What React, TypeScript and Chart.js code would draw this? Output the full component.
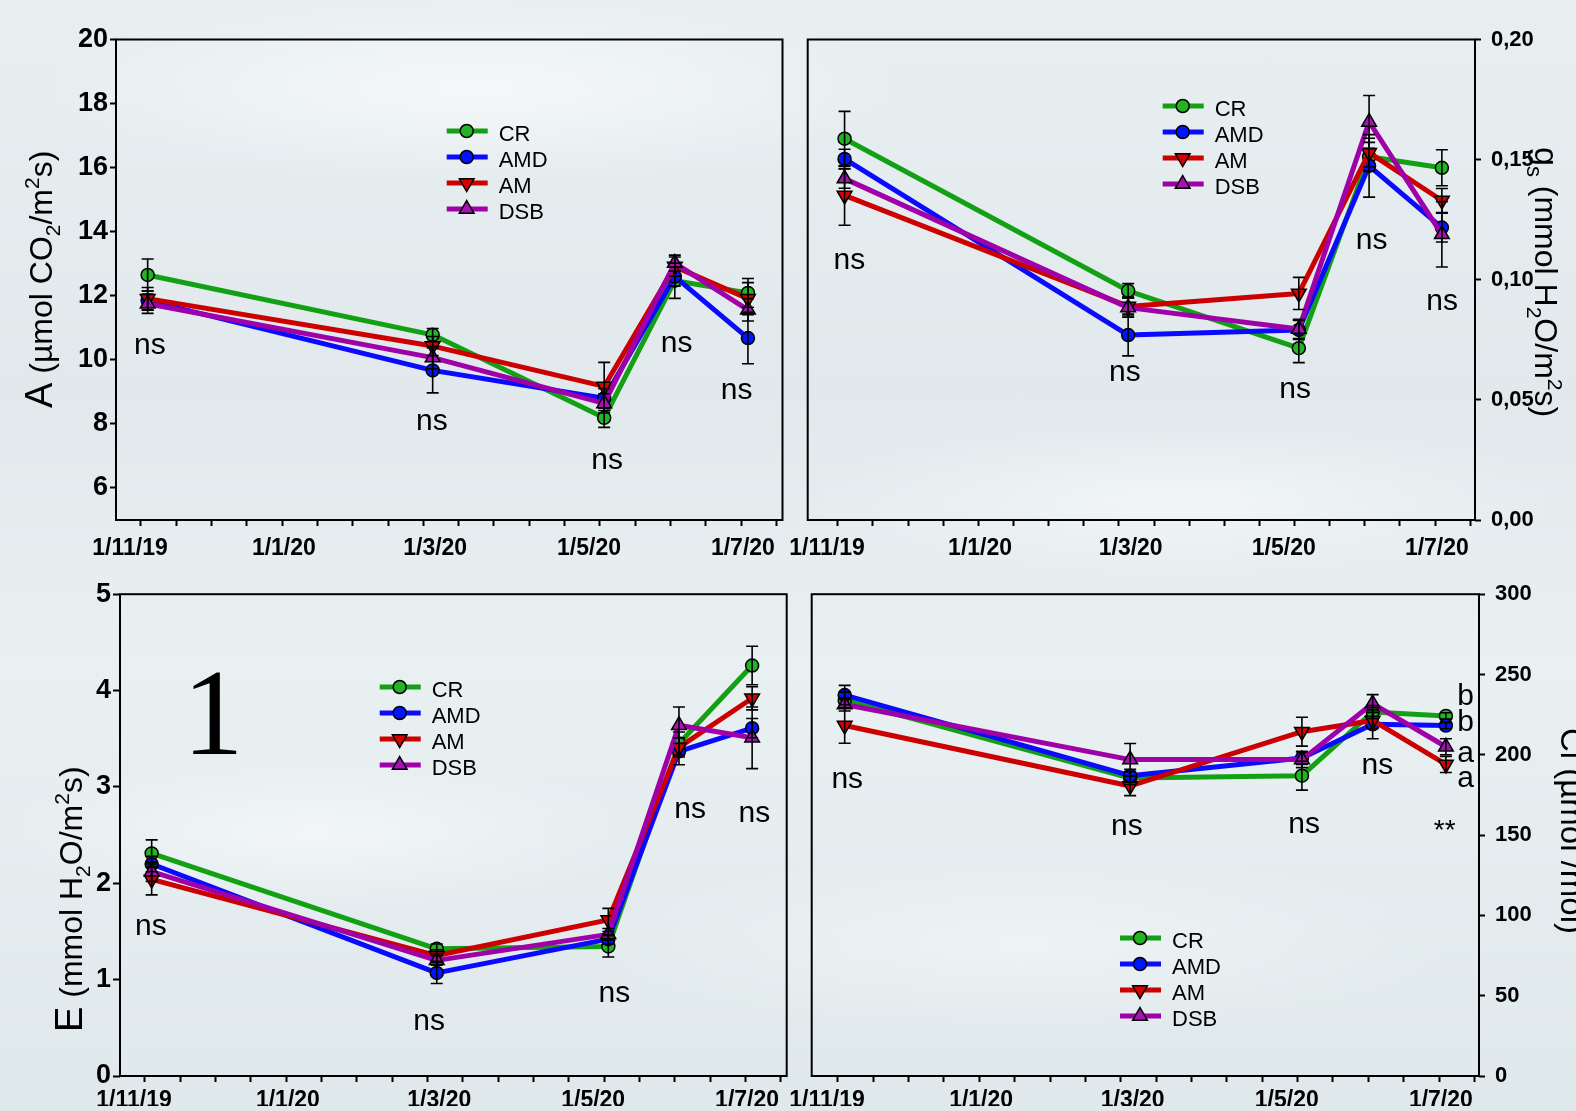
import React, { useEffect, useRef } from 'react';
import { Chart, registerables } from 'chart.js';

Chart.register(...registerables);

const FONT = '"Liberation Sans", Arial, Helvetica, sans-serif';
const SERIF = '"Liberation Serif", "Times New Roman", serif';
const W = 1576;
const H = 1111;

// ---------- DATA ----------
// x values: days since 1 Nov 2019
const sampleDays = [7, 120, 188, 216, 245];
const xLabelDays = [0, 61, 121, 182, 243];
const xLabels = ['1/11/19', '1/1/20', '1/3/20', '1/5/20', '1/7/20'];
const xMinorTickDays = [4.3, 18.3, 32.3, 46.3, 60.3, 74.3, 88.3, 102.3, 116.3, 130.3, 144.3, 158.3, 172.3, 186.3, 200.3, 214.3, 228.3, 242.3, 256.3];

const seriesNames = ['CR', 'AMD', 'AM', 'DSB'];

// Panel A: net photosynthesis
const aCR = [12.65, 10.78, 8.19, 12.47, 12.09];
const aAMD = [11.85, 9.67, 8.8, 12.6, 10.68];
const aAM = [11.91, 10.43, 9.17, 12.91, 11.91];
const aDSB = [11.75, 10.07, 8.64, 13.02, 11.56];
const aErrCR = [0.5, 0.2, 0.3, 0.55, 0.45];
const aErrAMD = [0.3, 0.7, 0.3, 0.3, 0.8];
const aErrAM = [0.35, 0.3, 0.75, 0.3, 0.5];
const aErrDSB = [0.3, 0.35, 0.3, 0.25, 0.35];
const aYTicks = [6, 8, 10, 12, 14, 16, 18, 20];

// Panel B: stomatal conductance gs
const gCR = [0.1587, 0.0954, 0.0715, 0.1512, 0.1466];
const gAMD = [0.1503, 0.077, 0.0791, 0.1474, 0.1217];
const gAM = [0.1351, 0.0889, 0.0943, 0.1529, 0.133];
const gDSB = [0.1421, 0.0884, 0.0795, 0.1657, 0.1189];
const gErrCR = [0.0114, 0.003, 0.006, 0.006, 0.0075];
const gErrAMD = [0.004, 0.0087, 0.004, 0.013, 0.006];
const gErrAM = [0.0124, 0.004, 0.0067, 0.006, 0.005];
const gErrDSB = [0.004, 0.004, 0.004, 0.011, 0.0136];
const gYTicks = [0, 0.05, 0.1, 0.15, 0.2];

// Panel C: transpiration E
const eCR = [2.31, 1.32, 1.345, 3.45, 4.26];
const eAMD = [2.2, 1.07, 1.42, 3.37, 3.61];
const eAM = [2.04, 1.25, 1.62, 3.41, 3.92];
const eDSB = [2.12, 1.2, 1.47, 3.64, 3.51];
const eErrCR = [0.14, 0.05, 0.11, 0.12, 0.2];
const eErrAMD = [0.08, 0.11, 0.05, 0.14, 0.1];
const eErrAM = [0.16, 0.06, 0.12, 0.1, 0.12];
const eErrDSB = [0.1, 0.05, 0.06, 0.19, 0.32];
const eYTicks = [0, 1, 2, 3, 4, 5];

// Panel D: Ci
const cCR = [234, 185.5, 187, 226.6, 224.2];
const cAMD = [237.2, 187, 198, 219, 218.2];
const cAM = [218.2, 180.6, 214.4, 221.4, 194];
const cDSB = [231.3, 197, 197, 231.9, 205];
const cErrCR = [5, 4, 9, 4, 2];
const cErrAMD = [6, 4, 4, 9, 2];
const cErrAM = [11, 6, 9, 5, 5];
const cErrDSB = [4, 10, 5, 5.6, 5];
const cYTicks = [0, 50, 100, 150, 200, 250, 300];

// Annotations (x in days, y in axis units = text baseline)
const notesA = [
  { x: 7.9, y: 10.18, text: 'ns' },
  { x: 119.7, y: 7.81, text: 'ns' },
  { x: 189.2, y: 6.6, text: 'ns' },
  { x: 216.7, y: 10.24, text: 'ns' },
  { x: 240.5, y: 8.78, text: 'ns' },
];
const notesB = [
  { x: 8.9, y: 0.1043, text: 'ns' },
  { x: 118.7, y: 0.0579, text: 'ns' },
  { x: 186.5, y: 0.0509, text: 'ns' },
  { x: 217, y: 0.1128, text: 'ns' },
  { x: 245.1, y: 0.0874, text: 'ns' },
];
const notesC = [
  { x: 6.7, y: 1.463, text: 'ns' },
  { x: 117, y: 0.477, text: 'ns' },
  { x: 190.4, y: 0.77, text: 'ns' },
  { x: 220.4, y: 2.68, text: 'ns' },
  { x: 245.9, y: 2.64, text: 'ns' },
  { x: 31.3, y: 3.342, text: '1', big: true },
];
const notesD = [
  { x: 8, y: 179.5, text: 'ns' },
  { x: 118.7, y: 149.9, text: 'ns' },
  { x: 188.9, y: 151, text: 'ns' },
  { x: 217.9, y: 187.9, text: 'ns' },
  { x: 244.5, y: 147.6, text: '**', small: true },
  { x: 249.5, y: 231, text: 'b', left: true },
  { x: 249.5, y: 215.1, text: 'b', left: true },
  { x: 249.5, y: 195.5, text: 'a', left: true },
  { x: 249.5, y: 179.7, text: 'a', left: true },
];

// ---------- STYLE ----------
const lineColors = ['#14a014', '#0a0aff', '#cc0000', '#a000a8'];
const fillColors = ['#22b422', '#0014ff', '#d80000', '#a812b4'];
const markerStyle = ['circle', 'circle', 'triangle', 'triangle'];
const markerRot = [0, 0, 180, 0];
const markerRadius = [6.5, 6.5, 8.5, 8.5];

type Seg = { t: string; s: number; d?: number };

const panels = [
  {
    key: 'A',
    area: { l: 116, t: 39.5, r: 782.5, b: 520 },
    xMin: -5.55, xMax: 258.7,
    yMin: 5, yMax: 20, yTicks: aYTicks, yFmt: (v: number) => String(v),
    yPos: 'left', yFont: 27, yPad: 2, yTickLen: 6,
    xPad: 9, xAxisH: 40,
    values: [aCR, aAMD, aAM, aDSB], errors: [aErrCR, aErrAMD, aErrAM, aErrDSB],
    notes: notesA,
    legend: { x: 446.7, y: 131 },
    title: {
      segs: [{ t: 'A', s: 38 }, { t: ' (µmol CO', s: 32 }, { t: '2', s: 21, d: 8 }, { t: '/m', s: 32 }, { t: '2', s: 21, d: -13 }, { t: 's)', s: 32 }] as Seg[],
      x: 52, y: 408, rot: -Math.PI / 2,
    },
  },
  {
    key: 'B',
    area: { l: 807.7, t: 39.5, r: 1475, b: 520 },
    xMin: -7.69, xMax: 258.2,
    yMin: 0, yMax: 0.2, yTicks: gYTicks, yFmt: (v: number) => v.toFixed(2).replace('.', ','),
    yPos: 'right', yFont: 22, yPad: 10, yTickLen: 6,
    xPad: 9, xAxisH: 40,
    values: [gCR, gAMD, gAM, gDSB], errors: [gErrCR, gErrAMD, gErrAM, gErrDSB],
    notes: notesB,
    legend: { x: 1162.7, y: 106 },
    title: {
      segs: [{ t: 'g', s: 34 }, { t: 's', s: 22, d: 8 }, { t: ' (mmol H', s: 32 }, { t: '2', s: 21, d: 8 }, { t: 'O/m', s: 32 }, { t: '2', s: 21, d: -13 }, { t: 's)', s: 32 }] as Seg[],
      x: 1535, y: 147, rot: Math.PI / 2,
    },
  },
  {
    key: 'C',
    area: { l: 120, t: 594.2, r: 786.7, b: 1076 },
    xMin: -5.55, xMax: 258.7,
    yMin: 0, yMax: 5, yTicks: eYTicks, yFmt: (v: number) => String(v),
    yPos: 'left', yFont: 27, yPad: 2, yTickLen: 7,
    xPad: 5, xAxisH: 30,
    values: [eCR, eAMD, eAM, eDSB], errors: [eErrCR, eErrAMD, eErrAM, eErrDSB],
    notes: notesC,
    legend: { x: 379.7, y: 687 },
    title: {
      segs: [{ t: 'E', s: 38 }, { t: ' (mmol H', s: 32 }, { t: '2', s: 21, d: 8 }, { t: 'O/m', s: 32 }, { t: '2', s: 21, d: -13 }, { t: 's)', s: 32 }] as Seg[],
      x: 82, y: 1032, rot: -Math.PI / 2,
    },
  },
  {
    key: 'D',
    area: { l: 811.7, t: 594.2, r: 1479, b: 1076 },
    xMin: -6.06, xMax: 258.1,
    yMin: 0, yMax: 300, yTicks: cYTicks, yFmt: (v: number) => String(v),
    yPos: 'right', yFont: 22, yPad: 10, yTickLen: 6,
    xPad: 5, xAxisH: 30,
    values: [cCR, cAMD, cAM, cDSB], errors: [cErrCR, cErrAMD, cErrAM, cErrDSB],
    notes: notesD,
    legend: { x: 1120, y: 938 },
    title: {
      segs: [{ t: 'Ci', s: 33 }, { t: ' (µmol /mol)', s: 33 }] as Seg[],
      x: 1561, y: 728, rot: Math.PI / 2,
    },
  },
];

type PanelT = (typeof panels)[number];

function drawMarker(ctx: CanvasRenderingContext2D, i: number, x: number, y: number) {
  ctx.save();
  ctx.fillStyle = fillColors[i];
  ctx.strokeStyle = '#000';
  ctx.lineWidth = 1.5;
  ctx.beginPath();
  if (markerStyle[i] === 'circle') {
    ctx.arc(x, y, markerRadius[i], 0, Math.PI * 2);
  } else {
    const r = markerRadius[i];
    let rad = (markerRot[i] * Math.PI) / 180;
    ctx.moveTo(x + Math.sin(rad) * r, y - Math.cos(rad) * r);
    rad += (2 * Math.PI) / 3;
    ctx.lineTo(x + Math.sin(rad) * r, y - Math.cos(rad) * r);
    rad += (2 * Math.PI) / 3;
    ctx.lineTo(x + Math.sin(rad) * r, y - Math.cos(rad) * r);
    ctx.closePath();
  }
  ctx.fill();
  ctx.stroke();
  ctx.restore();
}

function drawRich(ctx: CanvasRenderingContext2D, segs: Seg[], x: number, y: number, rot: number) {
  ctx.save();
  ctx.translate(x, y);
  ctx.rotate(rot);
  ctx.fillStyle = '#000';
  ctx.textAlign = 'left';
  ctx.textBaseline = 'alphabetic';
  let u = 0;
  for (const s of segs) {
    ctx.font = `${s.s}px ${FONT}`;
    ctx.fillText(s.t, u, s.d || 0);
    u += ctx.measureText(s.t).width;
  }
  ctx.restore();
}

function buildConfig(p: PanelT): any {
  const yW = 100;
  const padding =
    p.yPos === 'left'
      ? { left: p.area.l - yW, top: p.area.t, right: W - p.area.r, bottom: H - p.area.b - p.xAxisH }
      : { left: p.area.l, top: p.area.t, right: W - p.area.r - yW, bottom: H - p.area.b - p.xAxisH };
  const labelMap = new Map<number, string>(xLabelDays.map((d, i) => [d, xLabels[i]]));
  const allTicks = [...xLabelDays, ...xMinorTickDays].sort((a, b) => a - b);

  const datasets = seriesNames.map((name, i) => ({
    label: name,
    data: sampleDays.map((d, j) => ({ x: d, y: p.values[i][j] })),
    errors: p.errors[i],
    borderColor: lineColors[i],
    backgroundColor: fillColors[i],
    pointBackgroundColor: fillColors[i],
    pointBorderColor: '#000',
    pointBorderWidth: 1.5,
    pointStyle: markerStyle[i],
    pointRotation: markerRot[i],
    pointRadius: markerRadius[i],
    borderWidth: 5,
    borderJoinStyle: 'round',
    tension: 0,
    fill: false,
    order: 4 - i,
    clip: false,
  }));

  const decor = {
    id: 'decor' + p.key,
    beforeDatasetsDraw(chart: any) {
      const { ctx, chartArea: a } = chart;
      ctx.save();
      ctx.strokeStyle = '#000';
      ctx.lineWidth = 2;
      ctx.strokeRect(a.left, a.top, a.right - a.left, a.bottom - a.top);
      ctx.restore();
    },
    afterDatasetsDraw(chart: any) {
      const { ctx } = chart;
      const xs = chart.scales.x;
      const ys = chart.scales.y;
      ctx.save();
      ctx.strokeStyle = '#000';
      ctx.lineWidth = 1.6;
      chart.data.datasets.forEach((ds: any, i: number) => {
        const meta = chart.getDatasetMeta(i);
        meta.data.forEach((pt: any, j: number) => {
          const v = ds.data[j].y;
          const e = ds.errors[j];
          const y1 = ys.getPixelForValue(v + e);
          const y2 = ys.getPixelForValue(v - e);
          ctx.beginPath();
          ctx.moveTo(pt.x, y1);
          ctx.lineTo(pt.x, y2);
          ctx.moveTo(pt.x - 6, y1);
          ctx.lineTo(pt.x + 6, y1);
          ctx.moveTo(pt.x - 6, y2);
          ctx.lineTo(pt.x + 6, y2);
          ctx.stroke();
        });
      });
      // annotations
      ctx.fillStyle = '#000';
      ctx.textBaseline = 'alphabetic';
      for (const n of p.notes as any[]) {
        if (n.big) ctx.font = `122px ${SERIF}`;
        else if (n.small) ctx.font = `28px ${FONT}`;
        else ctx.font = `30px ${FONT}`;
        ctx.textAlign = n.left ? 'left' : 'center';
        ctx.fillText(n.text, xs.getPixelForValue(n.x), ys.getPixelForValue(n.y));
      }
      ctx.restore();
    },
    afterDraw(chart: any) {
      const { ctx } = chart;
      // legend
      ctx.save();
      seriesNames.forEach((name, i) => {
        const y = p.legend.y + i * 26;
        const x0 = p.legend.x;
        ctx.strokeStyle = lineColors[i];
        ctx.lineWidth = 5;
        ctx.beginPath();
        ctx.moveTo(x0, y);
        ctx.lineTo(x0 + 41, y);
        ctx.stroke();
        drawMarker(ctx, i, x0 + 20, y);
        ctx.fillStyle = '#000';
        ctx.font = `22px ${FONT}`;
        ctx.textAlign = 'left';
        ctx.textBaseline = 'middle';
        ctx.fillText(name, x0 + 52, y + 4);
      });
      ctx.restore();
      drawRich(ctx, p.title.segs, p.title.x, p.title.y, p.title.rot);
    },
  };

  return {
    type: 'line',
    data: { datasets },
    options: {
      animation: false,
      responsive: false,
      maintainAspectRatio: false,
      events: [],
      layout: { padding },
      plugins: { legend: { display: false }, tooltip: { enabled: false } },
      scales: {
        x: {
          type: 'linear',
          min: p.xMin,
          max: p.xMax,
          afterBuildTicks: (s: any) => {
            s.ticks = allTicks.map((v) => ({ value: v }));
          },
          afterFit: (s: any) => {
            s.height = p.xAxisH;
          },
          ticks: {
            autoSkip: false,
            maxRotation: 0,
            minRotation: 0,
            padding: p.xPad,
            color: '#000',
            font: { family: FONT, size: 23, weight: 'bold' },
            callback: (v: number) => labelMap.get(v) ?? '',
          },
          grid: {
            drawOnChartArea: false,
            drawTicks: true,
            tickLength: 6,
            tickWidth: 2,
            tickColor: (c: any) => (c.tick && labelMap.has(c.tick.value) ? 'rgba(0,0,0,0)' : '#000'),
          },
          border: { display: false },
        },
        y: {
          type: 'linear',
          position: p.yPos,
          min: p.yMin,
          max: p.yMax,
          afterBuildTicks: (s: any) => {
            s.ticks = p.yTicks.map((v) => ({ value: v }));
          },
          afterFit: (s: any) => {
            s.width = yW;
          },
          ticks: {
            padding: p.yPad,
            color: '#000',
            font: { family: FONT, size: p.yFont, weight: 'bold' },
            callback: (v: number) => p.yFmt(v),
          },
          grid: {
            drawOnChartArea: false,
            drawTicks: true,
            tickLength: p.yTickLen,
            tickWidth: 2,
            tickColor: '#000',
          },
          border: { display: false },
        },
      },
    },
    plugins: [decor],
  };
}

function PanelChart({ p }: { p: PanelT }) {
  const ref = useRef<HTMLCanvasElement>(null);
  useEffect(() => {
    const canvas = ref.current;
    if (!canvas) return;
    const chart = new Chart(canvas, buildConfig(p));
    return () => chart.destroy();
  }, [p]);
  return (
    <canvas
      ref={ref}
      width={W}
      height={H}
      style={{ position: 'absolute', left: 0, top: 0, width: W, height: H }}
    />
  );
}

export default function App() {
  return (
    <div
      style={{
        position: 'fixed',
        left: 0,
        top: 0,
        width: W,
        height: H,
        overflow: 'hidden',
        background:
          'radial-gradient(ellipse 40% 12% at 30% 8%, rgba(255,255,255,0.6), rgba(255,255,255,0) 70%),' +
          'radial-gradient(ellipse 35% 10% at 75% 45%, rgba(255,255,255,0.5), rgba(255,255,255,0) 70%),' +
          'radial-gradient(ellipse 30% 10% at 20% 75%, rgba(255,255,255,0.5), rgba(255,255,255,0) 70%),' +
          'radial-gradient(ellipse 40% 12% at 65% 85%, rgba(255,255,255,0.4), rgba(255,255,255,0) 70%),' +
          'linear-gradient(180deg, #e8eff1 0%, #e1e9ec 35%, #e9f0f2 60%, #dfe8eb 100%)',
      }}
    >
      {panels.map((p) => (
        <PanelChart key={p.key} p={p} />
      ))}
    </div>
  );
}
